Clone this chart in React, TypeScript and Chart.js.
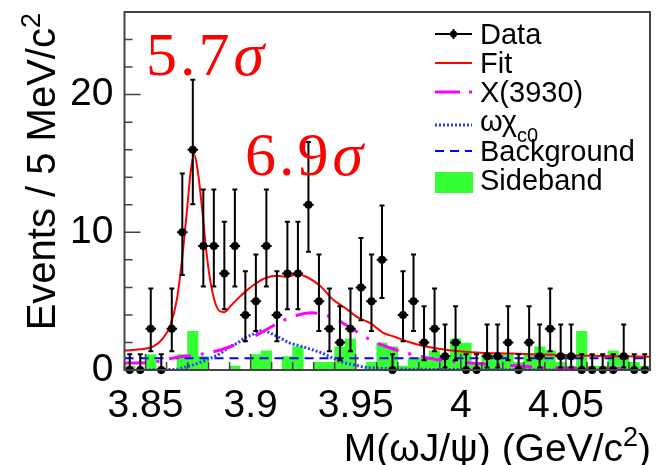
import { useEffect, useRef } from 'react';
import { Chart, registerables } from 'chart.js';

Chart.register(...registerables);

// ---------- data ----------
const binWidth = 0.005; // GeV per bin (5 MeV)

const binCenters = [
  3.8425, 3.8475, 3.8525, 3.8575, 3.8625, 3.8675, 3.8725, 3.8775, 3.8825, 3.8875,
  3.8925, 3.8975, 3.9025, 3.9075, 3.9125, 3.9175, 3.9225, 3.9275, 3.9325, 3.9375,
  3.9425, 3.9475, 3.9525, 3.9575, 3.9625, 3.9675, 3.9725, 3.9775, 3.9825, 3.9875,
  3.9925, 3.9975, 4.0025, 4.0075, 4.0125, 4.0175, 4.0225, 4.0275, 4.0325, 4.0375,
  4.0425, 4.0475, 4.0525, 4.0575, 4.0625, 4.0675, 4.0725, 4.0775, 4.0825, 4.0875,
];

const dataCounts = [
  0, 0, 3, 0, 3, 10, 16, 9, 9, 7,
  9, 4, 5, 9, 4, 7, 7, 12, 5, 3,
  2, 3, 6, 5, 8, 0, 4, 5, 2, 3,
  1, 2, 0, 0, 1, 1, 2, 0, 2, 1,
  3, 1, 1, 0, 0, 0, 0, 1, 0, 0,
];

const sidebandValues = [
  0.28, 0, 1.12, 0, 0, 1.12, 2.8, 0.98, 0, 0,
  0.28, 0, 1.12, 1.4, 0, 0.98, 1.68, 0, 0.56, 0.56,
  1.68, 2.24, 0, 0.56, 1.96, 1.68, 0.28, 0.84, 0.84, 1.4,
  0.84, 2.24, 1.96, 0.56, 1.12, 0.84, 1.12, 0.56, 1.12, 1.68,
  1.4, 0.56, 0.28, 2.8, 0.28, 0.28, 1.4, 0.84, 0.56, 0.28,
];

const fitX = [
  3.84, 3.8474, 3.8536, 3.8583, 3.8617, 3.8649, 3.8672, 3.8696, 3.8715, 3.8731,
  3.8747, 3.8768, 3.8788, 3.8807, 3.8831, 3.8855, 3.8874, 3.8902, 3.894, 3.8983,
  3.9026, 3.9074, 3.9126, 3.9174, 3.9221, 3.9274, 3.9331, 3.9393, 3.945, 3.9512,
  3.9569, 3.9631, 3.9688, 3.9745, 3.9821, 3.9936, 4.0093, 4.0236, 4.0379, 4.0555,
  4.0712, 4.09,
];
const fitY = [
  1.4, 1.5, 1.7, 2.3, 3.2, 5.1, 7.8, 11.4, 14.4, 15.7,
  14.6, 11.9, 8.8, 6.6, 4.9, 4.25, 4.2, 4.6, 5.2, 5.8,
  6.3, 6.7, 6.85, 6.75, 6.95, 6.7, 6.1, 5.1, 4.5, 3.8,
  3.4, 2.7, 2.4, 2.07, 1.75, 1.46, 1.26, 1.2, 1.12, 1.06,
  1.0, 0.97,
];

const x3930X = [
  3.84, 3.8507, 3.8569, 3.864, 3.8745, 3.8798, 3.8855, 3.8964, 3.9012, 3.9083,
  3.9155, 3.9226, 3.9293, 3.9355, 3.9412, 3.945, 3.9498, 3.9545, 3.9602, 3.9664,
  3.9736, 3.9821, 3.9888, 3.9974, 4.0045, 4.0174, 4.0269, 4.0364, 4.046, 4.0583,
  4.0679, 4.09,
];
const x3930Y = [
  0.5, 0.52, 0.65, 0.9, 1.1, 1.25, 1.45, 2.05, 2.4, 3.0,
  3.6, 4.0, 4.15, 4.0, 3.65, 3.3, 2.85, 2.4, 1.95, 1.6,
  1.25, 0.95, 0.75, 0.6, 0.5, 0.37, 0.3, 0.2, 0.15, 0.12,
  0.12, 0.1,
];

const omegaX = [
  3.84, 3.864, 3.8698, 3.876, 3.8793, 3.8855, 3.8902, 3.8936, 3.8974, 3.9012,
  3.905, 3.9083, 3.9131, 3.9188, 3.9236, 3.9298, 3.9345, 3.9393, 3.944, 3.9498,
  3.9545, 3.9617, 3.9807, 4.09,
];
const omegaY = [
  0.0, 0.05, 0.25, 0.55, 0.75, 1.2, 1.7, 1.95, 2.35, 2.6,
  2.85, 2.75, 2.4, 1.95, 1.75, 1.45, 1.2, 0.85, 0.55, 0.35,
  0.2, 0.12, 0.05, 0.0,
];

const bkgX = [3.84, 3.965, 4.09];
const bkgY = [0.86, 0.86, 0.86];

const xTickValues = [3.85, 3.9, 3.95, 4.0, 4.05];
const xTickLabels = ['3.85', '3.9', '3.95', '4', '4.05'];
const yTickValues = [0, 10, 20];
const yTickLabels = ['0', '10', '20'];

const legendLabels = ['Data', 'Fit', 'X(3930)', 'ωχ', 'Background', 'Sideband'];

// ---------- helpers ----------
const SANS = '"Liberation Sans", Arial, Helvetica, sans-serif';
const SERIF = '"Liberation Serif", "Times New Roman", serif';
const DATA_INDEX = 5;

function poissonCdf(k: number, mu: number) {
  let term = Math.exp(-mu);
  let sum = term;
  for (let i = 1; i <= k; i++) {
    term *= mu / i;
    sum += term;
  }
  return sum;
}
function bisect(f: (m: number) => number, a: number, b: number) {
  let fa = f(a);
  for (let i = 0; i < 80; i++) {
    const m = (a + b) / 2;
    const fm = f(m);
    if ((fm > 0) === (fa > 0)) {
      a = m;
      fa = fm;
    } else b = m;
  }
  return (a + b) / 2;
}
const ALPHA = (1 - 0.682689) / 2;
function poissonInterval(n: number): [number, number] {
  if (n === 0) return [0, -Math.log(1 - 0.682689)];
  const lo = bisect((m) => 1 - poissonCdf(n - 1, m) - ALPHA, 1e-9, n);
  const hi = bisect((m) => poissonCdf(n, m) - ALPHA, n, n + 10 * Math.sqrt(n) + 10);
  return [lo, hi];
}

const decorPlugin = {
  id: 'decor',
  beforeDatasetDraw(chart: any, args: any) {
    if (args.index !== DATA_INDEX) return;
    const ctx = chart.ctx;
    const xs = chart.scales.x;
    const ys = chart.scales.y;
    ctx.save();
    ctx.strokeStyle = '#000';
    ctx.lineWidth = 2;
    binCenters.forEach((c, i) => {
      const n = dataCounts[i];
      const [lo, hi] = poissonInterval(n);
      const px = xs.getPixelForValue(c);
      const py = ys.getPixelForValue(n);
      const pLo = ys.getPixelForValue(lo);
      const pHi = ys.getPixelForValue(hi);
      const pL = xs.getPixelForValue(c - binWidth / 2);
      const pR = xs.getPixelForValue(c + binWidth / 2);
      ctx.beginPath();
      ctx.moveTo(px, pLo);
      ctx.lineTo(px, pHi);
      ctx.moveTo(pL, py);
      ctx.lineTo(pR, py);
      ctx.moveTo(px - 2.5, pHi);
      ctx.lineTo(px + 2.5, pHi);
      if (n > 0) {
        ctx.moveTo(px - 2.5, pLo);
        ctx.lineTo(px + 2.5, pLo);
      }
      ctx.stroke();
    });
    ctx.restore();
  },
  afterDatasetsDraw(chart: any) {
    const ctx = chart.ctx;
    const { left, right, top, bottom } = chart.chartArea;
    const xs = chart.scales.x;
    const ys = chart.scales.y;
    ctx.save();
    ctx.strokeStyle = '#444';
    ctx.lineWidth = 2;
    ctx.strokeRect(left, top, right - left, bottom - top);
    ctx.lineWidth = 1.5;
    ctx.beginPath();
    for (let v = 0; v <= 26; v += 2) {
      const py = ys.getPixelForValue(v);
      const len = yTickValues.includes(v) ? 16 : 8;
      ctx.moveTo(left, py);
      ctx.lineTo(left + len, py);
    }
    for (let k = 0; k <= 25; k++) {
      const v = 3.84 + k * 0.01;
      const px = xs.getPixelForValue(v);
      const major = xTickValues.some((t) => Math.abs(t - v) < 1e-6);
      ctx.moveTo(px, bottom);
      ctx.lineTo(px, bottom - (major ? 16 : 8));
    }
    ctx.stroke();
    ctx.restore();
  },
  afterDraw(chart: any) {
    const ctx = chart.ctx;
    ctx.save();
    // ---- legend ----
    const sx0 = 435;
    const sx1 = 472;
    const tx = 480;
    const base = [44, 73, 102, 131, 161, 190];
    const mid = base.map((b) => b - 10);
    ctx.strokeStyle = '#000';
    ctx.lineWidth = 2;
    ctx.beginPath();
    ctx.moveTo(sx0, mid[0]);
    ctx.lineTo(sx1, mid[0]);
    ctx.moveTo((sx0 + sx1) / 2, mid[0] - 5);
    ctx.lineTo((sx0 + sx1) / 2, mid[0] + 5);
    ctx.stroke();
    ctx.fillStyle = '#000';
    ctx.beginPath();
    ctx.arc((sx0 + sx1) / 2, mid[0], 3.5, 0, Math.PI * 2);
    ctx.fill();
    ctx.strokeStyle = '#ff0000';
    ctx.lineWidth = 2;
    ctx.beginPath();
    ctx.moveTo(sx0, mid[1]);
    ctx.lineTo(sx1, mid[1]);
    ctx.stroke();
    ctx.strokeStyle = '#ff00ff';
    ctx.lineWidth = 3;
    ctx.setLineDash([25, 9, 3, 10]);
    ctx.beginPath();
    ctx.moveTo(sx0, mid[2]);
    ctx.lineTo(sx1, mid[2]);
    ctx.stroke();
    ctx.strokeStyle = '#2b3cff';
    ctx.lineWidth = 3;
    ctx.setLineDash([2, 2]);
    ctx.beginPath();
    ctx.moveTo(sx0, mid[3] + 4);
    ctx.lineTo(sx1, mid[3] + 4);
    ctx.stroke();
    ctx.strokeStyle = '#0000ff';
    ctx.lineWidth = 2;
    ctx.setLineDash([9, 6]);
    ctx.beginPath();
    ctx.moveTo(sx0, mid[4]);
    ctx.lineTo(sx1, mid[4]);
    ctx.stroke();
    ctx.setLineDash([]);
    ctx.fillStyle = '#33ff33';
    ctx.fillRect(sx0, 172, sx1 + 1 - sx0, 21);

    ctx.fillStyle = '#000';
    ctx.textBaseline = 'alphabetic';
    ctx.textAlign = 'left';
    ctx.font = `29px ${SANS}`;
    legendLabels.forEach((t, i) => {
      ctx.fillText(t, tx, base[i]);
    });
    const wOmega = ctx.measureText(legendLabels[3]).width;
    ctx.font = `20px ${SANS}`;
    ctx.fillText('c0', tx + wOmega, base[3] + 11);

    // ---- axis titles ----
    ctx.fillStyle = '#000';
    const xMain = 'M(ωJ/ψ) (GeV/c';
    const xSup = '2';
    const xEnd = ')';
    ctx.font = `39px ${SANS}`;
    const wMain = ctx.measureText(xMain).width;
    const wEnd = ctx.measureText(xEnd).width;
    ctx.font = `27px ${SANS}`;
    const wSup = ctx.measureText(xSup).width;
    const xRight = 651;
    const xBase = 461;
    let cx = xRight - wEnd - wSup - wMain;
    ctx.font = `39px ${SANS}`;
    ctx.fillText(xMain, cx, xBase);
    cx += wMain;
    ctx.font = `27px ${SANS}`;
    ctx.fillText(xSup, cx, xBase - 15);
    cx += wSup;
    ctx.font = `39px ${SANS}`;
    ctx.fillText(xEnd, cx, xBase);

    const yMain = 'Events / 5 MeV/c';
    ctx.save();
    ctx.translate(55, 13);
    ctx.rotate(-Math.PI / 2);
    ctx.font = `27px ${SANS}`;
    const ySupW = ctx.measureText('2').width;
    ctx.font = `40px ${SANS}`;
    const yMainW = ctx.measureText(yMain).width;
    ctx.textAlign = 'left';
    ctx.fillText(yMain, -(yMainW + ySupW), 0);
    ctx.font = `27px ${SANS}`;
    ctx.fillText('2', -ySupW, -15);
    ctx.restore();

    // ---- significance annotations ----
    ctx.fillStyle = '#ff0000';
    const drawSig = (num: string, x: number, y: number) => {
      ctx.font = `62px ${SERIF}`;
      let cx2 = x;
      for (const ch of num) {
        ctx.fillText(ch, cx2, y);
        cx2 += ctx.measureText(ch).width + 3;
      }
      ctx.font = `italic 62px ${SERIF}`;
      ctx.fillText('σ', cx2 + 1, y);
    };
    drawSig('5.7', 146, 75);
    drawSig('6.9', 245, 175);
    ctx.restore();
  },
};

export default function App() {
  const canvasRef = useRef<HTMLCanvasElement | null>(null);

  useEffect(() => {
    if (!canvasRef.current) return;
    const toXY = (xs: number[], ys: number[]) => xs.map((x, i) => ({ x, y: ys[i] }));
    const chart = new Chart(canvasRef.current, {
      type: 'line',
      data: {
        datasets: [
          {
            type: 'bar',
            label: 'Sideband',
            data: toXY(binCenters, sidebandValues),
            backgroundColor: '#33ff33',
            borderWidth: 0,
            barPercentage: 1,
            categoryPercentage: 1,
            grouped: false,
            order: 5,
          } as any,
          {
            label: 'Background',
            data: toXY(bkgX, bkgY),
            borderColor: '#0000ff',
            borderWidth: 2,
            borderDash: [9, 6],
            pointRadius: 0,
            order: 4,
          },
          {
            label: 'omega chi_c0',
            data: toXY(omegaX, omegaY),
            borderColor: '#2b3cff',
            borderWidth: 3,
            borderDash: [2, 2],
            pointRadius: 0,
            cubicInterpolationMode: 'monotone',
            order: 3,
          },
          {
            label: 'X(3930)',
            data: toXY(x3930X, x3930Y),
            borderColor: '#ff00ff',
            borderWidth: 3,
            borderDash: [22, 10, 3, 10],
            pointRadius: 0,
            cubicInterpolationMode: 'monotone',
            order: 2,
          },
          {
            label: 'Fit',
            data: toXY(fitX, fitY),
            borderColor: '#ff0000',
            borderWidth: 2,
            pointRadius: 0,
            cubicInterpolationMode: 'monotone',
            order: 1,
          },
          {
            label: 'Data',
            data: toXY(binCenters, dataCounts),
            showLine: false,
            pointRadius: 4,
            pointBackgroundColor: '#000',
            pointBorderColor: '#000',
            pointBorderWidth: 0,
            clip: false as any,
            order: 0,
          },
        ],
      },
      options: {
        animation: false,
        responsive: false,
        devicePixelRatio: 1,
        events: [],
        layout: { padding: { left: 0, right: 7, top: 12, bottom: 0 } },
        plugins: { legend: { display: false }, tooltip: { enabled: false } },
        scales: {
          x: {
            type: 'linear',
            min: 3.84,
            max: 4.09,
            offset: false,
            grid: { display: false, drawTicks: false, offset: false },
            border: { display: false },
            afterBuildTicks: (s: any) => {
              s.ticks = xTickValues.map((v) => ({ value: v }));
            },
            afterFit: (s: any) => {
              s.height = 95;
              s.paddingLeft = 0;
              s.paddingRight = 0;
            },
            ticks: {
              autoSkip: false,
              maxRotation: 0,
              padding: 13,
              color: '#000',
              font: { family: SANS, size: 39 },
              callback: (v: any) => xTickLabels[xTickValues.indexOf(v)],
            },
          },
          y: {
            type: 'linear',
            min: 0,
            max: 26,
            grid: { display: false, drawTicks: false },
            border: { display: false },
            afterBuildTicks: (s: any) => {
              s.ticks = yTickValues.map((v) => ({ value: v }));
            },
            afterFit: (s: any) => {
              s.width = 124.5;
              s.paddingTop = 0;
              s.paddingBottom = 0;
            },
            ticks: {
              autoSkip: false,
              padding: 11,
              color: '#000',
              font: { family: SANS, size: 39 },
              callback: (v: any) => yTickLabels[yTickValues.indexOf(v)],
            },
          },
        },
      },
      plugins: [decorPlugin],
    });
    return () => chart.destroy();
  }, []);

  return (
    <div style={{ position: 'absolute', left: 0, top: 0, width: 657, height: 465, background: '#fff' }}>
      <canvas ref={canvasRef} width={657} height={465} style={{ width: 657, height: 465, display: 'block' }} />
    </div>
  );
}
